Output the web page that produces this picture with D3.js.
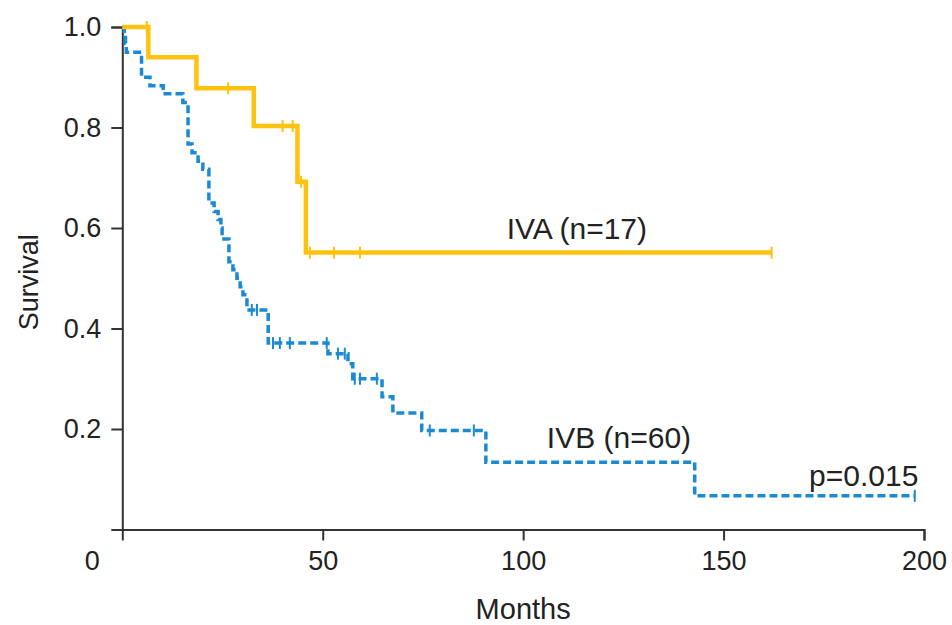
<!DOCTYPE html>
<html>
<head>
<meta charset="utf-8">
<script src="https://cdn.jsdelivr.net/npm/d3@7"></script>
<style>
  body { margin: 0; background: #fff; }
  svg { display: block; font-family: "Liberation Sans", Arial, sans-serif; }
  .axis path, .axis line { stroke: #333; stroke-width: 2; }
  .axis text { fill: #222; font-size: 27px; }
</style>
</head>
<body>
<svg width="952" height="625"></svg>
<script>
// survival steps: time (months) where the curve drops, and the level after
const ivaTimes = [0, 6.5, 18.5, 32.8, 43.7, 45.8];
const ivaSurv = [1.0, 0.94, 0.878, 0.803, 0.692, 0.551];
const ivaEnd = 162;
const ivaCensor = [6.1, 26.4, 40.0, 42.5, 44.6, 46.8, 52.8, 59.3, 162];

const ivbTimes = [0, 0.5, 0.8, 1.0, 4.8, 6.9, 10.2, 15.1, 16.4, 17.4, 18.9, 20.1, 21.6, 22.9,
  23.9, 24.6, 24.9, 26.6, 27.6, 28.6, 29.4, 30.1, 31.1, 36.4, 51.3, 56.3, 57.5, 64.8, 67.5,
  74.7, 90.7, 142.8];
const ivbSurv = [1.0, 0.983, 0.967, 0.95, 0.9, 0.883, 0.867, 0.85, 0.767, 0.75, 0.733, 0.717,
  0.65, 0.633, 0.617, 0.6, 0.578, 0.533, 0.517, 0.5, 0.483, 0.467, 0.437, 0.371, 0.35, 0.33,
  0.30, 0.264, 0.232, 0.197, 0.134, 0.067];
const ivbEnd = 197.7;
const ivbCensor = [32.3, 33.6, 37.6, 39.3, 41.8, 51.0, 53.8, 55.5, 58.0, 59.3, 63.5, 76.7,
  87.7, 197.7];

const xTicks = [50, 100, 150, 200];
const yTicks = [0.2, 0.4, 0.6, 0.8, 1.0];

const svg = d3.select("svg");
const x = d3.scaleLinear().domain([0, 200]).range([122.3, 924]);
const y = d3.scaleLinear().domain([0, 1]).range([529.5, 27]);

// x axis, the "0" label sits apart from the axis origin like in the figure
svg.append("g")
    .attr("class", "axis")
    .attr("transform", `translate(0,${y(0)})`)
    .call(d3.axisBottom(x).tickValues(xTicks).tickSizeOuter(0).tickSize(11).tickPadding(10));

svg.append("text")
    .attr("x", x(0) - 30)
    .attr("y", y(0) + 21)
    .attr("dy", "0.71em")
    .attr("text-anchor", "middle")
    .attr("font-size", 27)
    .attr("fill", "#222")
    .text("0");

svg.append("g")
    .attr("class", "axis")
    .attr("transform", `translate(${x(0)},0)`)
    .call(d3.axisLeft(y).tickValues(yTicks).tickFormat(d3.format(".1f")).tickSizeOuter(0).tickSize(11).tickPadding(10));

svg.selectAll(".axis text").attr("font-family", null).attr("font-size", null);

svg.append("text")
    .attr("x", (x(0) + x(200)) / 2)
    .attr("y", 619)
    .attr("text-anchor", "middle")
    .attr("font-size", 29)
    .attr("fill", "#222")
    .text("Months");

svg.append("text")
    .attr("transform", `translate(38,${(y(0) + y(1)) / 2 + 4}) rotate(-90)`)
    .attr("text-anchor", "middle")
    .attr("font-size", 27)
    .attr("fill", "#222")
    .text("Survival");

function stepLevel(times, surv, t) {
    let s = surv[0];
    for (let i = 0; i < times.length; i++) {
        if (times[i] <= t) s = surv[i];
    }
    return s;
}

const line = d3.line()
    .x((d) => x(d[0]))
    .y((d) => y(d[1]))
    .curve(d3.curveStepAfter);

function drawCurve(times, surv, end, censor, color, dash, width) {
    const pts = times.map((t, i) => [t, surv[i]]);
    pts.push([end, surv[surv.length - 1]]);
    svg.append("path")
        .datum(pts)
        .attr("fill", "none")
        .attr("stroke", color)
        .attr("stroke-width", width)
        .attr("stroke-dasharray", dash)
        .attr("d", line);
    svg.append("g")
        .selectAll("line")
        .data(censor)
        .join("line")
        .attr("x1", (d) => x(d))
        .attr("x2", (d) => x(d))
        .attr("y1", (d) => y(stepLevel(times, surv, d)) - 6)
        .attr("y2", (d) => y(stepLevel(times, surv, d)) + 6)
        .attr("stroke", color)
        .attr("stroke-width", 2);
}

drawCurve(ivbTimes, ivbSurv, ivbEnd, ivbCensor, "#1a8ad4", "8,4", 3.5);
drawCurve(ivaTimes, ivaSurv, ivaEnd, ivaCensor, "#ffc20e", null, 4.5);

const notes = [
    { t: 113.4, s: 0.6, text: "IVA (n=17)", anchor: "middle" },
    { t: 123.9, s: 0.184, text: "IVB (n=60)", anchor: "middle" },
    { t: 198.6, s: 0.109, text: "p=0.015", anchor: "end" }
];
svg.append("g")
    .selectAll("text")
    .data(notes)
    .join("text")
    .attr("x", (d) => x(d.t))
    .attr("y", (d) => y(d.s))
    .attr("dy", "0.36em")
    .attr("text-anchor", (d) => d.anchor)
    .attr("font-size", 30)
    .attr("fill", "#222")
    .text((d) => d.text);
</script>
</body>
</html>
